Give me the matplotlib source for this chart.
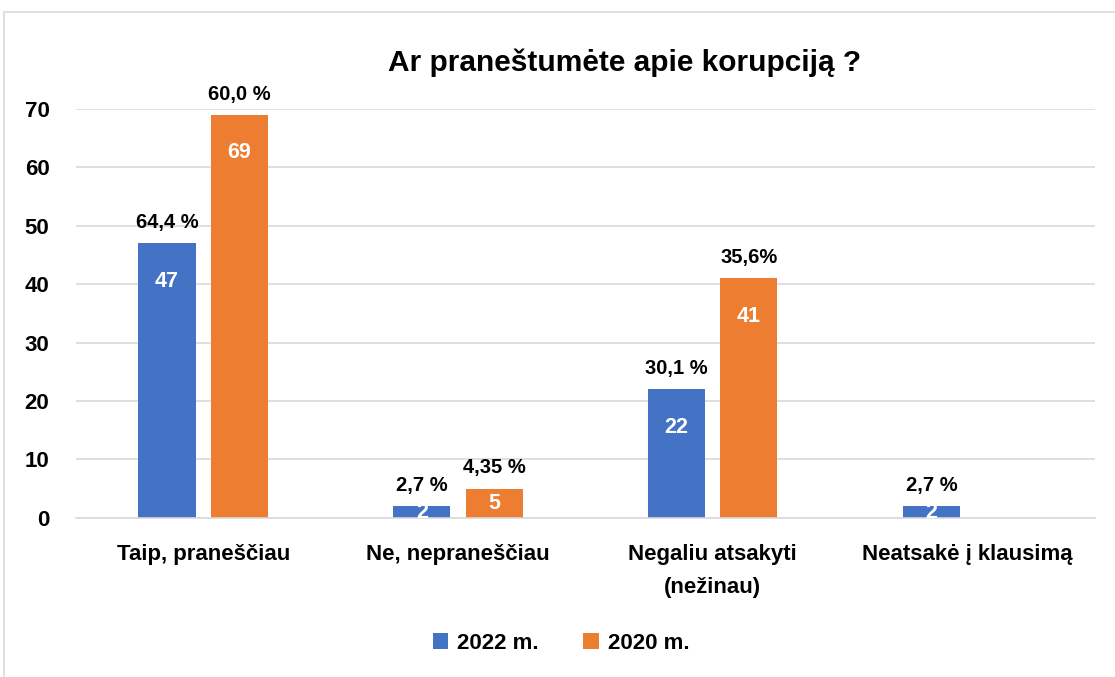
import matplotlib
matplotlib.use("Agg")
import matplotlib.pyplot as plt
import numpy as np
from matplotlib.patches import Rectangle

categories = ["Taip, praneščiau", "Ne, nepraneščiau", "Negaliu atsakyti\n(nežinau)", "Neatsakė į klausimą"]
series_names = ["2022 m.", "2020 m."]
values_2022 = [47, 2, 22, 2]
values_2020 = [69, 5, 41, None]
pct_2022 = ["64,4 %", "2,7 %", "30,1 %", "2,7 %"]
pct_2020 = ["60,0 %", "4,35 %", "35,6%", None]
yticks = [0, 10, 20, 30, 40, 50, 60, 70]
title = "Ar praneštumėte apie korupciją ?"

plt.rcParams['font.family'] = ['Liberation Sans', 'DejaVu Sans']
plt.rcParams['font.weight'] = 'bold'

fig = plt.figure(figsize=(11.15, 6.77), dpi=100)
ax = fig.add_axes([0.068, 0.235, 0.914, 0.604])

fig.patches.append(Rectangle((0.004, -0.02), 1.1, 0.982 + 0.02, transform=fig.transFigure,
                             fill=False, edgecolor='#D9D9D9', linewidth=1.2))

x = np.arange(len(categories))
w = 0.224
off = 0.142
colors = ['#4472C4', '#ED7D31']

for i, (vals, pcts) in enumerate([(values_2022, pct_2022), (values_2020, pct_2020)]):
    xs = x + (-off if i == 0 else off)
    for j, (xi, v, p) in enumerate(zip(xs, vals, pcts)):
        if v is None:
            continue
        ax.bar(xi, v, width=w, color=colors[i], zorder=2,
               label=series_names[i] if j == 0 else None)
        ax.text(xi, v - min(v / 2, 6.5), str(v), ha='center', va='center',
                color='white', fontsize=15.5, fontweight='bold', clip_on=True, zorder=3)
        if p:
            ax.annotate(p, (xi, v), xytext=(0, 15), textcoords='offset points',
                        ha='center', va='center', color='black', fontsize=14.5,
                        fontweight='bold', zorder=3)

ax.set_xlim(-0.5, len(categories) - 0.5)
ax.set_ylim(0, 70)
ax.set_yticks(yticks)
ax.set_xticks(x)
ax.set_xticklabels(categories, fontsize=16, fontweight='bold', linespacing=1.75)
ax.tick_params(axis='both', length=0)
ax.tick_params(axis='y', pad=19, labelsize=16)
ax.tick_params(axis='x', pad=19, labelsize=16)
for lab in ax.get_yticklabels():
    lab.set_fontweight('bold')
ax.grid(axis='y', color='#D9D9D9', linewidth=1.2, zorder=0)
ax.set_axisbelow(True)
for s in ['top', 'right', 'left']:
    ax.spines[s].set_visible(False)
ax.spines['bottom'].set_color('#D9D9D9')
ax.spines['bottom'].set_linewidth(1.2)

fig.text(0.56, 0.908, title, ha='center', va='center', fontsize=21.5, fontweight='bold')

handles, labels = ax.get_legend_handles_labels()
leg = fig.legend(handles, labels, loc='center', bbox_to_anchor=(0.503, 0.05), ncol=2,
                 frameon=False, fontsize=16, handlelength=0.7, handleheight=0.7,
                 columnspacing=2.0, handletextpad=0.4)
for t in leg.get_texts():
    t.set_fontweight('bold')

fig.savefig('out.png', dpi=100)
